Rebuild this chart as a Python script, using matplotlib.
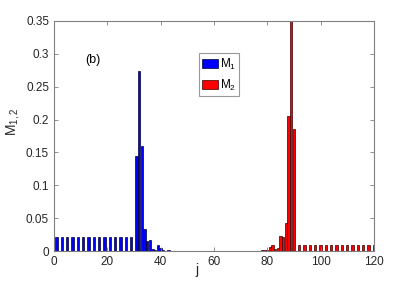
import matplotlib
matplotlib.use('Agg')
import matplotlib.pyplot as plt

plt.rcParams['font.family'] = ['Liberation Sans', 'DejaVu Sans']
plt.rcParams['mathtext.fontset'] = 'custom'
plt.rcParams['mathtext.rm'] = 'Liberation Sans'
plt.rcParams['mathtext.it'] = 'Liberation Sans'

# M_1 (blue): sites and values
j1 = [1, 3, 5, 7, 9, 11, 13, 15, 17, 19, 21, 23, 25, 27, 29,
      31, 32, 33, 34, 35, 36, 37, 38, 39, 40, 41, 42, 43, 44]
m1 = [0.021, 0.021, 0.021, 0.021, 0.021, 0.021, 0.021, 0.021,
      0.021, 0.021, 0.021, 0.021, 0.021, 0.021, 0.021,
      0.145, 0.274, 0.160, 0.0335, 0.0157, 0.017, 0.0026, 0.0015,
      0.0087, 0.005, 0.0008, 0.0005, 0.0015, 0.0004]

# M_2 (red): sites and values
j2 = [74, 75, 76, 77, 78, 79, 80, 81, 82, 83, 84, 85, 86, 87, 88, 89, 90,
      92, 94, 96, 98, 100, 102, 104, 106, 108, 110, 112, 114, 116, 118, 120]
m2 = [0.0003, 0.0004, 0.0005, 0.0006, 0.001, 0.001, 0.0018, 0.0066, 0.0096,
      0.003, 0.0046, 0.023, 0.021, 0.043, 0.206, 0.40, 0.186,
      0.0087, 0.0087, 0.0087, 0.0087, 0.0087, 0.0087, 0.0087, 0.0087,
      0.0087, 0.0087, 0.0087, 0.0087, 0.0087, 0.0087, 0.0087]

xticks = [0, 20, 40, 60, 80, 100, 120]
yticks = [0, 0.05, 0.1, 0.15, 0.2, 0.25, 0.3, 0.35]
ytick_labels = ['0', '0.05', '0.1', '0.15', '0.2', '0.25', '0.3', '0.35']

fig = plt.figure(figsize=(4.15, 2.83), dpi=100)
ax = fig.add_axes([0.130, 0.113, 0.771, 0.813])

ax.bar(j1, m1, width=0.9, color='#0000ff', edgecolor='#000033', linewidth=0.5, label='M$_1$')
ax.bar(j2, m2, width=0.9, color='#ff0000', edgecolor='#330000', linewidth=0.5, label='M$_2$')

ax.set_xlim(0, 120)
ax.set_ylim(0, 0.35)
ax.set_xticks(xticks)
ax.set_yticks(yticks)
ax.set_yticklabels(ytick_labels)
ax.tick_params(direction='in', length=3, width=0.6, colors='#808080',
               labelcolor='#262626', labelsize=8.5, top=True, right=True)
for s in ax.spines.values():
    s.set_color('#808080')
    s.set_linewidth(0.8)

ax.set_xlabel('j', fontsize=10, color='#262626')
ax.xaxis.set_label_coords(0.447, -0.05)
ax.set_ylabel('M$_{1,2}$', fontsize=10, color='#262626')
ax.yaxis.set_label_coords(-0.10, 0.56)

ax.text(14.5, 0.29, '(b)', fontsize=9, ha='center', va='center')

leg = ax.legend(loc='upper left', bbox_to_anchor=(0.453, 0.86), fontsize=8.5,
                frameon=True, fancybox=False, handlelength=1.3, handleheight=0.7,
                handletextpad=0.15, borderpad=0.3, labelspacing=0.5, borderaxespad=0)
leg.get_frame().set_edgecolor('#808080')
leg.get_frame().set_linewidth(0.8)

plt.savefig('out.png', dpi=100)
